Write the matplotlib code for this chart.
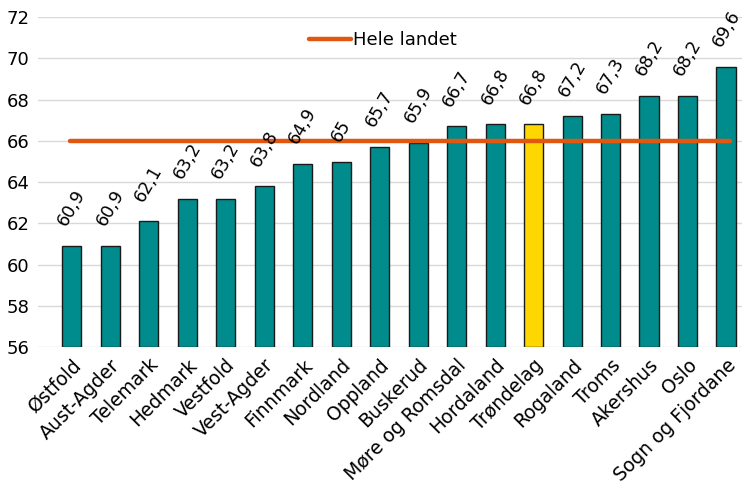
import numpy as np
from matplotlib import pyplot as plt

fylker = ['Østfold', 'Aust-Agder', 'Telemark', 'Hedmark', 'Vestfold', 'Vest-Agder',
          'Finnmark', 'Nordland', 'Oppland', 'Buskerud', 'Møre og Romsdal',
          'Hordaland', 'Trøndelag', 'Rogaland', 'Troms', 'Akershus', 'Oslo',
          'Sogn og Fjordane']
verdier = [60.9, 60.9, 62.1, 63.2, 63.2, 63.8, 64.9, 65, 65.7, 65.9, 66.7,
           66.8, 66.8, 67.2, 67.3, 68.2, 68.2, 69.6]
hele_landet = 66.0
uthevet = 'Trøndelag'

plt.rcParams['font.family'] = 'DejaVu Sans'

fig = plt.figure(figsize=(7.43, 4.91), dpi=100)
ax = fig.add_axes([0.051, 0.293, 0.948, 0.672])

x = np.arange(len(fylker))
farger = ['#FFD700' if f == uthevet else '#008C8C' for f in fylker]
ax.bar(x, np.array(verdier) - 56, bottom=56, width=0.5, color=farger,
       edgecolor='#1a1a1a', linewidth=1.0, zorder=2)

# linja for landsgjennomsnittet
ax.plot([-0.05, 17.1], [hele_landet, hele_landet], color='#E2570F', lw=3.2,
        zorder=3, label='Hele landet', solid_capstyle='round')

for xi, v in zip(x, verdier):
    tekst = ('%g' % v).replace('.', ',')
    ax.annotate(tekst, (xi, v), xytext=(0, 12), textcoords='offset points',
                rotation=60, ha='center', va='bottom', fontsize=12.5,
                zorder=4, annotation_clip=False)

ax.set_ylim(56, 72)
ax.set_yticks(np.arange(56, 73, 2))
ax.set_xlim(-0.88, 17.42)
ax.set_xticks(x)
ax.set_xticklabels(fylker, rotation=45, ha='right', rotation_mode='anchor',
                   fontsize=13.5)
ax.tick_params(axis='y', labelsize=13, length=0, pad=6)
ax.tick_params(axis='x', length=0, pad=6)
ax.yaxis.grid(True, color='#D9D9D9', lw=1, zorder=0)
for s in ax.spines.values():
    s.set_visible(False)

leg = ax.legend(loc='center', bbox_to_anchor=(0.49, 0.93), frameon=False,
                fontsize=13, handlelength=2.3, handletextpad=0.1)

fig.savefig('out.png', dpi=100)
